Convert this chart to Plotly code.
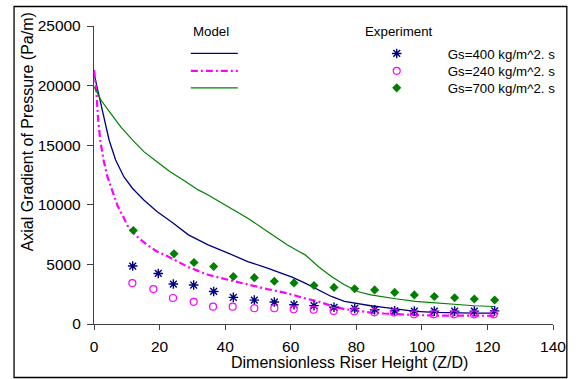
import plotly.graph_objects as go

# ---- Model curves ----
m400_x = [0, 0.9, 1.9, 3.1, 4.6, 6.6, 9.1, 11.7, 15.2, 19.2, 24.2, 28.8, 34.8, 40.9, 46.9,
          52.9, 58.9, 60.4, 64.4, 68.4, 72.4, 76.4, 80.4, 84.4, 88.4, 92, 98, 104, 110, 116, 122]
m400_y = [21000, 19900, 18510, 17110, 15440, 13760, 12360, 11390, 10410, 9430, 8460, 7480, 6640,
          5950, 5240, 4690, 4130, 3940, 3430, 2870, 2310, 1890, 1700, 1530, 1390, 1270, 1060,
          970, 930, 920, 920]

m240_x = [0, 0.6, 1.3, 1.9, 2.9, 4.1, 5.3, 7.3, 8.9, 10.6, 13.1, 16.2, 19.2, 22.6, 28.8, 34.8,
          40.9, 46.9, 52.9, 58.9, 62, 64.4, 68.4, 72.4, 76.4, 80.4, 84.4, 88.4, 93.4, 98, 104,
          110, 116, 122]
m240_y = [21300, 19900, 17100, 15440, 13760, 12360, 11390, 9850, 9010, 8040, 7340, 6640, 6080,
          5660, 4770, 4130, 3710, 3290, 2930, 2580, 2330, 2150, 1890, 1520, 1250, 1080, 960,
          880, 800, 750, 710, 690, 690, 690]

m700_x = [0, 2.1, 5.1, 8.1, 11.7, 15.2, 19.2, 23.2, 27.2, 31.8, 34.8, 40.9, 46.9, 52.9, 58.9,
          62.5, 64.4, 68.4, 72.4, 76.4, 80.4, 84.4, 88.4, 92, 98, 104, 110, 116, 122]
m700_y = [19900, 18790, 17670, 16550, 15440, 14460, 13620, 12780, 12090, 11250, 10830, 9850,
          8880, 7760, 6640, 6080, 5800, 4820, 3990, 3290, 2730, 2450, 2260, 2120, 1900, 1760,
          1620, 1530, 1470]

# ---- Experimental points ----
e400_x = [11.8, 19.6, 24.2, 30.4, 36.5, 42.5, 48.9, 55, 61, 67.1, 73.2, 79.5, 85.6, 91.7,
          97.7, 103.8, 110, 116, 122.2]
e400_y = [4860, 4240, 3350, 3270, 2730, 2230, 2000, 1840, 1620, 1540, 1400, 1310, 1200, 1110,
          1080, 1080, 1080, 1080, 1100]

e240_x = [11.7, 18.1, 24.1, 30.4, 36.3, 42.3, 48.9, 55, 60.9, 67, 73.1, 79.4, 85.5, 91.5,
          97.6, 103.6, 109.8, 115.9, 121.9]
e240_y = [3430, 2930, 2180, 1860, 1450, 1450, 1320, 1320, 1230, 1200, 1100, 1060, 980, 970,
          810, 810, 810, 810, 810]

e700_x = [12, 24.4, 30.5, 36.5, 42.5, 48.9, 55, 61, 67.1, 73.2, 79.5, 85.6, 91.7, 97.7,
          103.8, 110, 116, 122.2]
e700_y = [7840, 5890, 5160, 4820, 3990, 3890, 3590, 3450, 3230, 3070, 2960, 2860, 2650, 2440,
          2310, 2200, 2100, 2010]

exp_names = ["Gs=400 kg/m^2. s", "Gs=240 kg/m^2. s", "Gs=700 kg/m^2. s"]
x_ticks = [0, 20, 40, 60, 80, 100, 120, 140]
y_ticks = [0, 5000, 10000, 15000, 20000, 25000]

NAVY, MAG, GREEN = "#000080", "#FF00FF", "#008000"
FONT = "Arial, 'Liberation Sans', sans-serif"
AX = "#404040"

fig = go.Figure()
fig.add_trace(go.Scatter(x=m400_x, y=m400_y, mode="lines", name="", legend="legend",
                         line=dict(color=NAVY, width=1.3)))
fig.add_trace(go.Scatter(x=m240_x, y=m240_y, mode="lines", name="", legend="legend2",
                         line=dict(color=MAG, width=2.2, dash="7px,3px,2px,3px")))
fig.add_trace(go.Scatter(x=m700_x, y=m700_y, mode="lines", name="", legend="legend3",
                         line=dict(color=GREEN, width=1.2)))

fig.add_trace(go.Scatter(x=e400_x, y=e400_y, mode="markers", name=exp_names[0], legend="legend4",
                         marker=dict(symbol="asterisk-open", size=8, color=NAVY,
                                     line=dict(color=NAVY, width=1.4))))
fig.add_trace(go.Scatter(x=e240_x, y=e240_y, mode="markers", name=exp_names[1], legend="legend5",
                         marker=dict(symbol="circle-open", size=7, color=MAG,
                                     line=dict(color=MAG, width=1.2))))
fig.add_trace(go.Scatter(x=e700_x, y=e700_y, mode="markers", name=exp_names[2], legend="legend6",
                         marker=dict(symbol="diamond", size=7, color=GREEN,
                                     line=dict(color=GREEN, width=0))))

W, H = 578, 379
L, R, T, B = 94, 19, 26, 55
pw, ph = W - L - R, H - T - B


def px(xp):
    return (xp - L) / pw


def py(yp):
    return (H - B - yp) / ph


def leg(xp, row_y, iw):
    return dict(x=px(xp), y=py(row_y - 15), xanchor="left", yanchor="top", itemwidth=iw,
                font=dict(size=13.3), bgcolor="rgba(0,0,0,0)", borderwidth=0)


rows = [53.3, 70.7, 87.7]

fig.update_layout(
    width=W, height=H,
    margin=dict(l=L, r=R, t=T, b=B),
    paper_bgcolor="white", plot_bgcolor="white",
    font=dict(family=FONT, color="black", size=15.5),
    xaxis=dict(range=[0, 140], tickvals=x_ticks, ticks="outside", ticklen=5, tickwidth=1.2,
               tickcolor=AX, showline=True, linecolor=AX, linewidth=1.3, showgrid=False,
               zeroline=False, tickfont=dict(size=15.5), ticklabelstandoff=3),
    xaxis2=dict(range=[0, 140], overlaying="x", anchor="y", side="bottom", tickvals=x_ticks,
                ticks="inside", ticklen=5, tickwidth=1.2, tickcolor=AX, showline=False,
                showgrid=False, zeroline=False, showticklabels=False),
    yaxis=dict(range=[0, 25000], tickvals=y_ticks, tickformat="d", ticks="outside", ticklen=6,
               tickwidth=1.2, tickcolor=AX, showline=True, linecolor=AX, linewidth=1.3,
               showgrid=False, zeroline=False, tickfont=dict(size=15.5), ticklabelstandoff=3),
    yaxis2=dict(range=[0, 25000], overlaying="y", anchor="x", side="left", tickvals=y_ticks,
                ticks="inside", ticklen=6, tickwidth=1.2, tickcolor=AX, showline=False,
                showgrid=False, zeroline=False, showticklabels=False),
    legend=leg(187, rows[0], 47),
    legend2=leg(187, rows[1], 47),
    legend3=leg(187, rows[2], 47),
    legend4=leg(349, rows[0], 92),
    legend5=leg(349, rows[1], 92),
    legend6=leg(349, rows[2], 92),
    showlegend=True,
)

fig.add_annotation(text="Model", xref="paper", yref="paper", x=px(213), y=py(31),
                   showarrow=False, font=dict(size=13.3), xanchor="center", yanchor="middle")
fig.add_annotation(text="Experiment", xref="paper", yref="paper", x=px(402.5), y=py(31),
                   showarrow=False, font=dict(size=13.3), xanchor="center", yanchor="middle")
fig.add_annotation(text="Dimensionless Riser Height (Z/D)", xref="paper", yref="paper",
                   x=px(353), y=py(362.5), showarrow=False, font=dict(size=16), borderpad=0,
                   xanchor="center", yanchor="middle")
fig.add_annotation(text="Axial Gradient of Pressure (Pa/m)", xref="paper", yref="paper",
                   x=px(27), y=py(131.5), showarrow=False, font=dict(size=16), textangle=-90,
                   xanchor="center", yanchor="middle")

fig.add_shape(type="rect", xref="paper", yref="paper", x0=px(13), x1=px(573), y0=py(377.5),
              y1=py(6.5), line=dict(color="black", width=1.3), fillcolor="rgba(0,0,0,0)",
              layer="above")

fig.write_html("out.html")
